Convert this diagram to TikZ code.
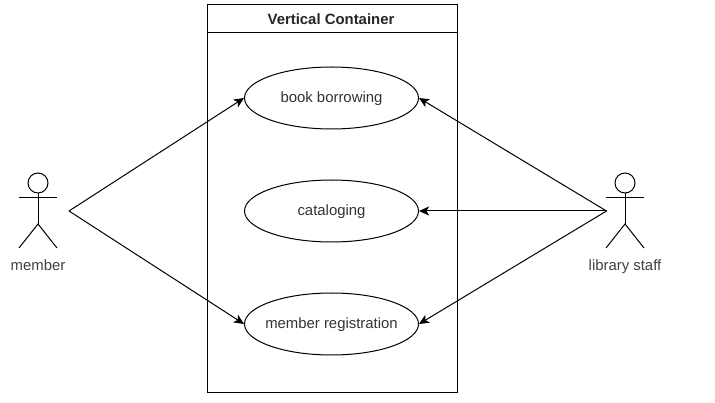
\documentclass[tikz,border=0pt]{standalone}
\usepackage{fontspec}
\setmainfont{Liberation Sans}
\usetikzlibrary{shapes.geometric, arrows.meta}
\begin{document}
\begin{tikzpicture}[
  x=1pt, y=-1pt,
  usecase/.style={ellipse, draw, minimum width=174pt, minimum height=62pt, inner xsep=-20pt, inner ysep=0pt, text height=11pt, text depth=1pt, font=\fontsize{14.9}{17}\selectfont, text=black!80},
  actorlabel/.style={text height=11pt, text depth=3pt, font=\fontsize{14.9}{17}\selectfont, text=black!75},
  flow/.style={-{Stealth[length=10pt, width=9pt, inset=2.5pt]}},
  line width=1pt
]
  \useasboundingbox (0, 0) rectangle (715, 403);

  % container
  \draw (207, 5) rectangle (457, 392);
  \draw (207, 33) -- (457, 33);
  \node[font=\bfseries\fontsize{14.9}{17}\selectfont, text height=11pt, text depth=3pt, text=black!85] (title) at (331, 21) {Vertical Container};

  \node[usecase] (book) at (331.5, 98) {book borrowing};
  \node[usecase] (catalog) at (331.5, 211) {cataloging};
  \node[usecase] (register) at (331.5, 324) {member registration};

  % member
  \node[circle, draw, minimum size=20pt, inner sep=0pt] (mhead) at (38, 183) {};
  \coordinate (mhip) at (38, 224);
  \draw (mhead) -- (mhip);
  \draw (19, 198) -- (57, 198);
  \draw (19, 248) -- (mhip) -- (57, 248);
  \node[actorlabel] (mlabel) at (38, 267) {member};
  \coordinate (mport) at (69, 211);

  % library staff
  \node[circle, draw, minimum size=20pt, inner sep=0pt] (shead) at (625, 183) {};
  \coordinate (ship) at (625, 224);
  \draw (shead) -- (ship);
  \draw (606, 198) -- (644, 198);
  \draw (606, 248) -- (ship) -- (644, 248);
  \node[actorlabel] (slabel) at (625, 267) {library staff};
  \coordinate (sport) at (606.5, 211);

  \draw[flow] (mport) -- (book.west);
  \draw[flow] (mport) -- (register.west);
  \draw[flow] (sport) -- (book.east);
  \draw[flow] (sport) -- (catalog.east);
  \draw[flow] (sport) -- (register.east);
\end{tikzpicture}
\end{document}
